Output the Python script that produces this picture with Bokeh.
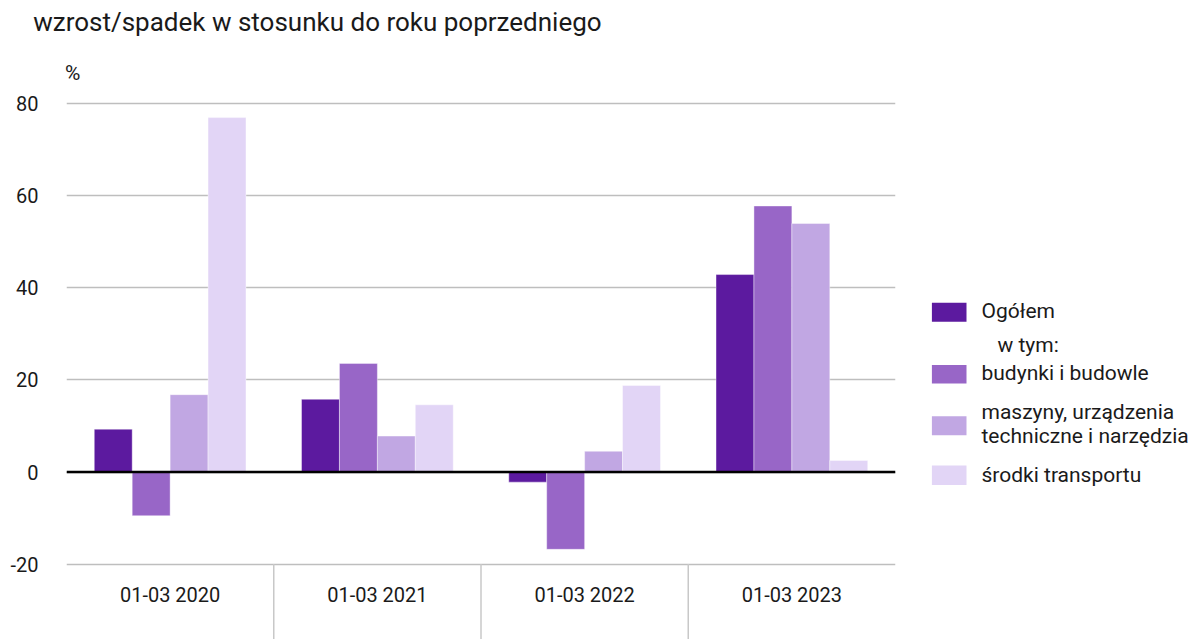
from bokeh.plotting import figure
from bokeh.models import FactorRange, Range1d, FixedTicker, Span
from bokeh.layouts import row, column
from bokeh.transform import dodge
from bokeh.core.properties import value
from bokeh.embed import file_html
from bokeh.resources import INLINE

# ---- data ----
categories = ["01-03 2020", "01-03 2021", "01-03 2022", "01-03 2023"]
ogolem = [9.3, 15.8, -2.2, 42.9]
budynki = [-9.5, 23.6, -16.8, 57.8]
maszyny = [16.8, 7.8, 4.5, 54.0]
transport = [77.0, 14.6, 18.8, 2.5]
series_names = ["Ogółem", "budynki i budowle",
                "maszyny, urządzenia", "środki transportu"]
yticks = [-20, 0, 20, 40, 60, 80]
subtitle = "wzrost/spadek w stosunku do roku poprzedniego"
unit = "%"

colors = ["#5C1A9F", "#9866C7", "#C1A7E3", "#E2D5F6"]
FONT = "Roboto"
TXT = "#1a1a1a"
SCALE = 4.6025  # px per unit


def blank(fig):
    fig.outline_line_color = None
    fig.xgrid.visible = False
    fig.ygrid.visible = False


# ---- header strip (page pixels) ----
top = figure(width=1196, height=90, x_range=Range1d(0, 1196), y_range=Range1d(90, 0),
             output_backend="svg", toolbar_location=None,
             x_axis_location=None, y_axis_location=None, min_border=0)
blank(top)
top.text(x=[32.7], y=[21.5], text=[subtitle], text_baseline="alphabetic",
         text_font=value(FONT), text_font_size="26px", text_color=TXT)
top.text(x=[64.5], y=[72], text=[unit], text_baseline="alphabetic",
         text_font=value(FONT), text_font_size="21px", text_color=TXT)

# ---- main chart ----
y0, y1 = -167.5 / SCALE, 80 + 13.3 / SCALE
p = figure(x_range=FactorRange(*categories, range_padding=0),
           y_range=Range1d(y0, y1),
           width=908, height=549, output_backend="svg", toolbar_location=None,
           x_axis_location=None,
           min_border_left=66, min_border_right=13, min_border_top=0, min_border_bottom=0)
p.outline_line_color = None
p.xgrid.visible = False
p.ygrid.ticker = FixedTicker(ticks=yticks)
p.ygrid.grid_line_color = "#BEBEBE"
p.ygrid.grid_line_width = 1.5
p.yaxis.ticker = FixedTicker(ticks=yticks)
p.yaxis.major_label_overrides = {t: str(t) for t in yticks}
p.yaxis.axis_line_color = None
p.yaxis.major_tick_line_color = None
p.yaxis.minor_tick_line_color = None
p.yaxis.major_tick_out = 0
p.yaxis.major_label_standoff = 28
p.yaxis.major_label_text_font = FONT
p.yaxis.major_label_text_font_size = "20px"
p.yaxis.major_label_text_color = TXT

data = dict(cat=categories, s0=ogolem, s1=budynki, s2=maszyny, s3=transport)
bw = 0.183
offsets = [-1.5 * bw, -0.5 * bw, 0.5 * bw, 1.5 * bw]
for i, key in enumerate(["s0", "s1", "s2", "s3"]):
    p.vbar(x=dodge("cat", offsets[i], range=p.x_range), top=key, bottom=0,
           width=bw, source=data, fill_color=colors[i],
           line_color="white", line_width=0.8, line_alpha=0.5)

# zero line
p.add_layout(Span(location=0, dimension="width", line_color="black", line_width=2.5))

# group separators below the -20 line
bounds = list(range(1, len(categories)))
p.segment(x0=bounds, y0=[yticks[0]] * len(bounds), x1=bounds, y1=[y0] * len(bounds),
          line_color="#C8C8C8", line_width=1.5)

# category labels
p.text(x=categories, y=[-(594.5 - 471.5) / SCALE] * len(categories), text=categories,
       text_align="center", text_baseline="alphabetic",
       text_font=value(FONT), text_font_size="20px", text_color=TXT)

# ---- legend panel (page pixels) ----
lf = figure(width=288, height=549, x_range=Range1d(908, 1196), y_range=Range1d(639, 90),
            output_backend="svg", toolbar_location=None,
            x_axis_location=None, y_axis_location=None, min_border=0)
blank(lf)
lf.quad(left=[931.4] * 4, right=[966] * 4,
        top=[302.3, 364.5, 415.8, 465.0], bottom=[321.2, 383.0, 434.7, 484.4],
        fill_color=colors, line_color=None)
lf.text(x=[981, 997, 981, 981, 981, 981],
        y=[310.0, 344.0, 372.3, 411.0, 435.0, 474.0],
        text=[series_names[0], "w tym:", series_names[1], series_names[2],
              "techniczne i narzędzia", series_names[3]],
        text_baseline="alphabetic", text_font=value(FONT), text_font_size="21px",
        text_color=TXT)

layout = column(top, row(p, lf))
open("out.html", "w").write(file_html(layout, INLINE))
